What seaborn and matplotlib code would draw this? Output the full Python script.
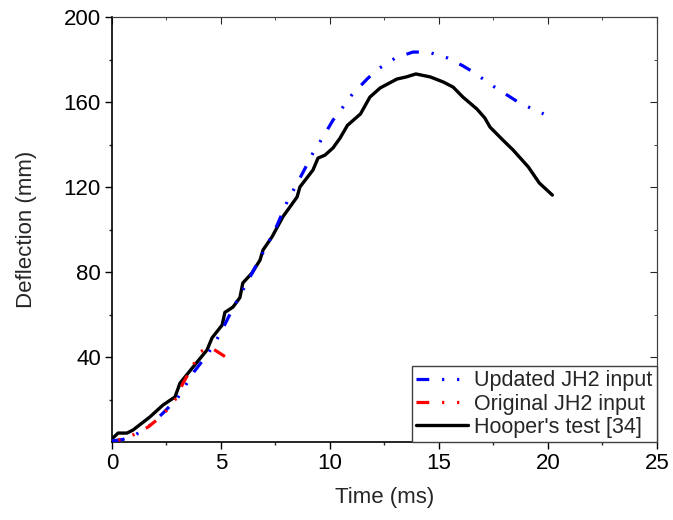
import numpy as np
import pandas as pd
import seaborn as sns
import matplotlib.pyplot as plt
from matplotlib.ticker import MultipleLocator

# Hooper's test
t_test = [0, 0.28, 0.69, 0.96, 1.74, 2.34, 2.89, 3.12, 3.72, 4.36, 4.59, 5.05, 5.18, 5.55,
          5.87, 6.0, 6.42, 6.79, 6.93, 7.34, 7.84, 8.49, 8.62, 9.22, 9.45, 9.77, 10.14,
          10.46, 10.8, 11.4, 11.83, 12.3, 13.07, 13.5, 13.94, 14.6, 15.2, 15.65, 16.1,
          16.74, 17.1, 17.34, 17.94, 18.4, 19.1, 19.6, 20.2]
d_test = [1.5, 4.2, 4.2, 5.6, 11.8, 17.4, 21.2, 27.7, 35.3, 43.3, 49, 55, 61, 63.5,
          68, 74.8, 79.5, 85.6, 90.4, 96.5, 106, 115.3, 120, 128, 133.6, 135, 138.4,
          143, 149, 154.4, 162.3, 166.6, 170.8, 171.8, 173.2, 171.8, 169.4, 167, 162.3,
          156.7, 152.5, 148.2, 142, 137.4, 129.4, 121.9, 116.2]

# Updated JH2 input
t_upd = [0, 0.5, 1.0, 1.6, 2.34, 3.0, 3.76, 4.36, 4.72, 5.05, 5.55, 6.33, 7.48, 8.07,
         8.53, 8.94, 9.22, 9.68, 10.14, 10.55, 11.0, 11.7, 12.2, 13.0, 13.8, 14.5,
         15.4, 16.1, 16.65, 17.4, 18.2, 18.7, 19.8]
d_upd = [0.5, 1.2, 3.0, 6.5, 13.6, 20.5, 33, 41, 46.6, 52.7, 63, 77.6, 99.8, 113.9,
         122.4, 130.4, 136, 143.5, 151.5, 157, 163.3, 170.8, 175.5, 180.7, 183.5, 183.5,
         180.7, 177, 173.6, 168, 162.8, 159.5, 154.4]

# Original JH2 input
t_orig = [0, 0.5, 0.96, 1.65, 2.06, 2.52, 2.89, 3.26, 3.72, 4.04, 4.5, 5.37]
d_orig = [0.5, 1.4, 3.3, 7, 10.4, 15, 19.8, 27.7, 36, 42.4, 44.7, 39]

sns.set_style("ticks")
plt.rcParams['font.family'] = ['Liberation Sans', 'DejaVu Sans']

fig = plt.figure(figsize=(6.73, 5.2), dpi=100)
ax = fig.add_axes([0.1664, 0.15, 0.8098, 0.8173])

dashdotdot = (4, 4, 0.7, 4, 0.7, 4)
sns.lineplot(x=t_test, y=d_test, ax=ax, color='black', lw=2.4, zorder=2,
             label="Hooper's test [34]")
sns.lineplot(x=t_upd, y=d_upd, ax=ax, color='#0000ff', lw=2.3, zorder=3,
             label='Updated JH2 input')
ax.lines[-1].set_dashes(dashdotdot)
sns.lineplot(x=t_orig, y=d_orig, ax=ax, color='#ff0000', lw=2.3, zorder=4,
             label='Original JH2 input')
ax.lines[-1].set_linestyle((6, dashdotdot))

ax.set_xlim(0, 25)
ax.set_ylim(0, 200)
ax.set_xticks([0, 5, 10, 15, 20, 25])
ax.xaxis.set_minor_locator(MultipleLocator(2.5))
ax.set_yticks([40, 80, 120, 160, 200])
ax.set_yticks([20, 60, 100, 140, 180], minor=True)
ax.tick_params(which='major', direction='out', length=5, width=1, labelsize=16,
               colors='black', pad=3)
ax.tick_params(which='minor', direction='out', length=2.5, width=1)
ax.set_xlabel('Time (ms)', fontsize=16, labelpad=9.5)
ax.set_ylabel('Deflection (mm)', fontsize=16, labelpad=19)

for side in ['top', 'right']:
    ax.spines[side].set_visible(True)
    ax.spines[side].set_color('#404040')
for side in ['left', 'bottom']:
    ax.spines[side].set_color('black')
    ax.spines[side].set_linewidth(1.2)

top = ax.secondary_xaxis('top')
top.set_xticks([0, 5, 10, 15, 20, 25])
top.xaxis.set_minor_locator(MultipleLocator(2.5))
top.tick_params(which='major', direction='in', length=5, labeltop=False)
top.tick_params(which='minor', direction='in', length=2.5)
top.spines['top'].set_color('#404040')
right = ax.secondary_yaxis('right')
right.set_yticks([40, 80, 120, 160, 200])
right.set_yticks([20, 60, 100, 140, 180], minor=True)
right.tick_params(which='major', direction='in', length=5, labelright=False)
right.tick_params(which='minor', direction='in', length=2.5)
right.spines['right'].set_color('#404040')

# legend order as in the reference
handles, labels = ax.get_legend_handles_labels()
order = [labels.index(l) for l in ['Updated JH2 input', 'Original JH2 input', "Hooper's test [34]"]]
leg = ax.legend([handles[i] for i in order], [labels[i] for i in order],
                loc='lower right', fontsize=15.5, frameon=True, fancybox=False,
                borderaxespad=0, handlelength=2.4, handletextpad=0.3,
                labelspacing=0.1, borderpad=0.2)
leg.get_lines()[0].set_linestyle((0, dashdotdot))
leg.get_lines()[1].set_linestyle((0, dashdotdot))
leg.get_frame().set_edgecolor('#404040')
leg.get_frame().set_linewidth(1.0)
leg.get_frame().set_alpha(1)

fig.savefig('out.png', dpi=100)
